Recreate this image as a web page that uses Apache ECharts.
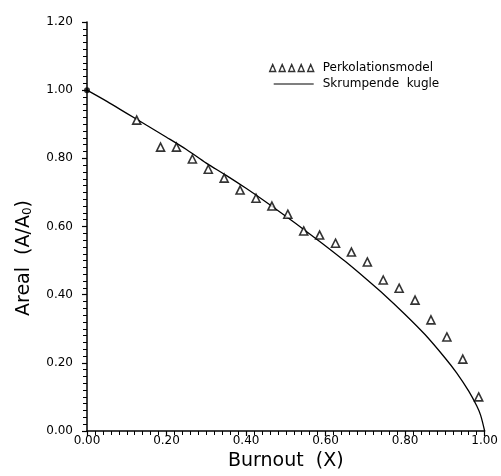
<!DOCTYPE html>
<html>
<head>
<meta charset="utf-8">
<script src="https://cdn.jsdelivr.net/npm/echarts@6/dist/echarts.min.js"></script>
<style>
html,body{margin:0;padding:0;background:#fff;}
#chart{width:501px;height:476px;}
</style>
</head>
<body>
<div id="chart"></div>
<script>
// Perkolationsmodel (triangles)
var percX = [0.125, 0.185, 0.225, 0.265, 0.305, 0.345, 0.385, 0.425, 0.465, 0.505, 0.545, 0.585, 0.625, 0.665, 0.705, 0.745, 0.785, 0.825, 0.865, 0.905, 0.945, 0.985];
var percY = [0.912, 0.833, 0.833, 0.798, 0.768, 0.742, 0.707, 0.683, 0.660, 0.636, 0.587, 0.575, 0.551, 0.525, 0.496, 0.443, 0.419, 0.384, 0.326, 0.276, 0.211, 0.100];
// Skrumpende kugle (line)
var sphereX = [0.00, 0.05, 0.10, 0.15, 0.20, 0.25, 0.30, 0.35, 0.40, 0.45, 0.50, 0.55, 0.60, 0.65, 0.70, 0.75, 0.80, 0.85, 0.90, 0.93, 0.96, 0.98, 0.99, 1.00];
var sphereY = [1.000, 0.967, 0.932, 0.897, 0.862, 0.826, 0.786, 0.750, 0.712, 0.672, 0.630, 0.587, 0.543, 0.497, 0.448, 0.397, 0.342, 0.283, 0.215, 0.170, 0.117, 0.074, 0.046, 0.000];
// starting point
var startX = [0.00];
var startY = [1.00];
// tick labels
var xTicks = ['0.00', '0.20', '0.40', '0.60', '0.80', '1.00'];
var yTicks = ['0.00', '0.20', '0.40', '0.60', '0.80', '1.00', '1.20'];

function zip(a, b) { return a.map(function (v, i) { return [v, b[i]]; }); }

var font = '"DejaVu Sans", sans-serif';
var tri5 = 'path://M0,7L3,0L6,7ZM9.5,7L12.5,0L15.5,7ZM19,7L22,0L25,7ZM28.5,7L31.5,0L34.5,7ZM38,7L41,0L44,7Z';
var lineIcon = 'path://M0,0L0.01,0L0.01,0.01ZM4,2.9L44,2.9L44,4.1L4,4.1ZM43.99,7L44,7L44,6.99Z';

var chart = echarts.init(document.getElementById('chart'), null, { renderer: 'canvas' });
chart.setOption({
  backgroundColor: '#fff',
  animation: false,
  grid: { left: 87, right: 13, top: 22, bottom: 45, containLabel: false },
  xAxis: {
    type: 'value', min: 0, max: 1, interval: 0.2,
    name: 'Burnout  (X)', nameLocation: 'middle', nameGap: 17,
    nameTextStyle: { fontFamily: font, fontSize: 19, color: '#000', verticalAlign: 'top' },
    axisLine: { show: true, onZero: false, lineStyle: { color: '#000', width: 1.5 } },
    axisTick: { show: true, inside: false, length: 5, lineStyle: { color: '#000', width: 1.2 } },
    minorTick: { show: true, splitNumber: 10, length: 4, lineStyle: { color: '#000', width: 1 } },
    splitLine: { show: false },
    axisLabel: { margin: 4, fontFamily: font, fontSize: 12, color: '#000',
      formatter: function (v) { return xTicks[Math.round(v / 0.2)]; } }
  },
  yAxis: {
    type: 'value', min: 0, max: 1.2, interval: 0.2,
    axisLine: { show: true, onZero: false, lineStyle: { color: '#000', width: 1.5 } },
    axisTick: { show: true, inside: false, length: 5, lineStyle: { color: '#000', width: 1.2 } },
    minorTick: { show: true, splitNumber: 10, length: 4, lineStyle: { color: '#000', width: 1 } },
    splitLine: { show: false },
    axisLabel: { margin: 14, fontFamily: font, fontSize: 12, color: '#000',
      formatter: function (v) { return yTicks[Math.round(v / 0.2)]; } }
  },
  legend: {
    orient: 'vertical', left: 269, top: 61, padding: 0, itemGap: 2,
    itemWidth: 44, itemHeight: 7,
    textStyle: { fontFamily: font, fontSize: 12, color: '#000', lineHeight: 14, padding: [0, 0, 0, 4] },
    data: [
      { name: 'Perkolationsmodel', icon: tri5, itemStyle: { color: '#fff', borderColor: '#000', borderWidth: 1.4 } },
      { name: 'Skrumpende  kugle', icon: lineIcon, itemStyle: { color: '#000', borderWidth: 0 } }
    ]
  },
  graphic: [{
    type: 'text', x: 24, y: 258, rotation: Math.PI / 2,
    style: {
      text: 'Areal  (A/A{sub|0})', align: 'center', verticalAlign: 'middle',
      fontFamily: font, fontSize: 19, fill: '#000',
      rich: { sub: { fontFamily: font, fontSize: 12, fill: '#000', verticalAlign: 'bottom', padding: [8, 0, 0, 0] } }
    }
  }],
  series: [
    {
      name: 'Skrumpende  kugle', type: 'line', data: zip(sphereX, sphereY),
      smooth: 0.3, symbol: 'none', itemStyle: { color: '#000' },
      lineStyle: { color: '#000', width: 1.3 }, z: 2
    },
    {
      name: 'Perkolationsmodel', type: 'scatter', data: zip(percX, percY),
      symbol: 'triangle', symbolSize: [8, 8],
      itemStyle: { color: '#fff', borderColor: '#000', borderWidth: 1.6 }, z: 3
    },
    {
      name: 'start', type: 'scatter', data: zip(startX, startY),
      symbol: 'circle', symbolSize: 6, itemStyle: { color: '#000' }, z: 4
    }
  ]
});
</script>
</body>
</html>
